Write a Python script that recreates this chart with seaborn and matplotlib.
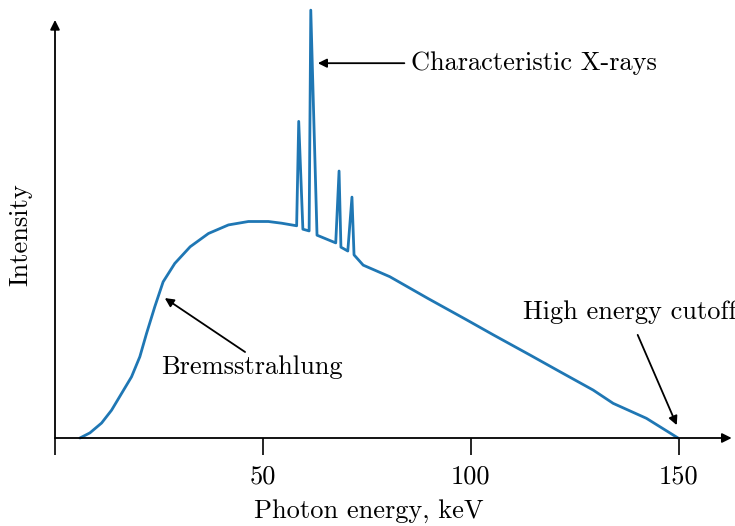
import numpy as np
import pandas as pd
import matplotlib
matplotlib.use("Agg")
import matplotlib.pyplot as plt
import seaborn as sns

# --- данни, отчетени от графиката ---
energy_kev = [6.0, 8.4, 11.2, 13.6, 16.0, 18.4, 20.4, 22.0, 24.0, 26.0, 28.8,
              32.5, 36.9, 41.7, 46.5, 51.3, 54.5, 58.1, 58.6, 59.6, 61.1,
              61.5, 63.0, 67.5, 68.3, 68.75, 70.4, 71.4, 71.9, 74.1, 80.5,
              89.7, 99.0, 105.4, 114.2, 121.4, 129.4, 134.2, 142.2, 149.8]
intensity = [0.0, 1.2, 3.5, 6.5, 10.4, 14.3, 19.0, 24.4, 30.7, 36.5, 40.8,
             44.7, 47.8, 49.8, 50.6, 50.6, 50.2, 49.6, 74.0, 48.8, 48.4,
             100.0, 47.4, 45.6, 62.4, 44.6, 43.7, 56.3, 42.8, 40.4, 37.7,
             32.6, 27.6, 24.1, 19.4, 15.5, 11.2, 8.1, 4.6, 0.0]
tick_values = [0, 50, 100, 150]
tick_labels = ["", "50", "100", "150"]

df = pd.DataFrame({"energy": energy_kev, "intensity": intensity})

sns.set_style("white")
plt.rcParams["font.family"] = "serif"
plt.rcParams["font.serif"] = ["cmr10", "DejaVu Serif"]
plt.rcParams["mathtext.fontset"] = "cm"
plt.rcParams["axes.formatter.use_mathtext"] = True
plt.rcParams["text.color"] = "black"
plt.rcParams["axes.labelcolor"] = "black"

FS = 19
XMAX = 163.5
YMAX = 101.2

fig = plt.figure(figsize=(7.35, 5.26), dpi=100)
ax = fig.add_axes([55 / 735, 88 / 526, 680 / 735, 433 / 526])

sns.lineplot(data=df, x="energy", y="intensity", ax=ax, color="#1f77b4",
             linewidth=2, clip_on=False)

ax.set_xlim(0, XMAX)
ax.set_ylim(0, YMAX)
for s in ax.spines.values():
    s.set_visible(False)

# оси със стрелки
arrow_kw = dict(arrowstyle="-|>", color="black", lw=1.3, mutation_scale=14,
                shrinkA=0, shrinkB=0)
ax.annotate("", xy=(XMAX - 0.8, 0), xytext=(0, 0), arrowprops=arrow_kw,
            annotation_clip=False)
ax.annotate("", xy=(0, 97.7), xytext=(0, 0), arrowprops=arrow_kw,
            annotation_clip=False)

ax.set_xticks(tick_values)
ax.set_xticklabels(tick_labels)
ax.set_yticks([])
ax.tick_params(axis="x", direction="out", length=12, width=1.2, pad=7,
               labelsize=FS, bottom=True, colors="black")

ax.set_xlabel("Photon energy, keV", fontsize=FS)
ax.xaxis.set_label_coords((369 - 55) / 680, -0.14)
ax.set_ylabel("Intensity", fontsize=FS)
ax.yaxis.set_label_coords(-(55 - 32) / 680, 0.47)

# анотации
ann_kw = dict(arrowstyle="-|>", color="black", lw=1.3, mutation_scale=13,
              shrinkA=0, shrinkB=0)
ax.annotate("", xy=(63.2, 87.6), xytext=(84.0, 87.6), arrowprops=ann_kw)
ax.text(85.6, 87.6, "Characteristic X-rays", fontsize=FS, ha="left",
        va="center")

ax.annotate("", xy=(26.4, 32.7), xytext=(45.7, 20.1), arrowprops=ann_kw)
ax.text(47.4, 16.6, "Bremsstrahlung", fontsize=FS, ha="center", va="center")

ax.annotate("", xy=(149.5, 3.0), xytext=(140.1, 24.1), arrowprops=ann_kw,
            annotation_clip=False)
ax.text(138.2, 29.4, "High energy cutoff", fontsize=FS, ha="center",
        va="center", clip_on=False)

fig.savefig("out.png", dpi=100)
